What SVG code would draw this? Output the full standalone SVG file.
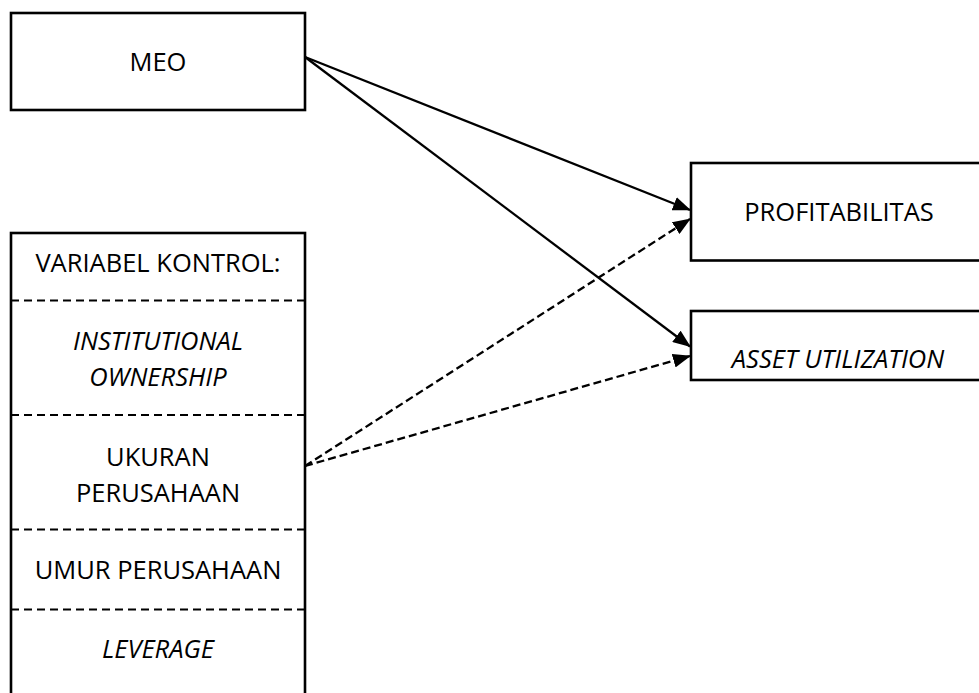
<svg xmlns="http://www.w3.org/2000/svg" width="979" height="693" viewBox="0 0 979 693">
<style>
.box{fill:#fff;stroke:#000;stroke-width:2.6}
.div{stroke:#000;stroke-width:2.2;stroke-dasharray:8,5;fill:none}
.t{font-family:"Open Sans","Liberation Sans",sans-serif;font-size:25.5px;fill:#000;text-anchor:middle}
.i{font-style:italic}
.c{stroke:#000;stroke-width:2.3;fill:none}
.d{stroke-dasharray:8,4}
</style>
<defs>
<marker id="ah" markerWidth="18" markerHeight="14" refX="17" refY="7" orient="auto" markerUnits="userSpaceOnUse">
<path d="M0,0 L18,7 L0,14 Z" fill="#000"/>
</marker>
</defs>
<rect width="979" height="693" fill="#fff"/>
<g id="meo">
<rect class="box" x="11" y="13" width="294" height="97"/>
<text class="t" x="158" y="71">MEO</text>
</g>
<g id="kontrol">
<rect class="box" x="11" y="233" width="294" height="470"/>
<line class="div" x1="11" y1="300.5" x2="305" y2="300.5"/>
<line class="div" x1="11" y1="415" x2="305" y2="415"/>
<line class="div" x1="11" y1="529.5" x2="305" y2="529.5"/>
<line class="div" x1="11" y1="609.5" x2="305" y2="609.5"/>
<text class="t" x="158" y="272">VARIABEL KONTROL:</text>
<text class="t i" x="158" y="350">INSTITUTIONAL</text>
<text class="t i" x="158" y="386">OWNERSHIP</text>
<text class="t" x="158" y="466">UKURAN</text>
<text class="t" x="158" y="502">PERUSAHAAN</text>
<text class="t" x="158" y="579">UMUR PERUSAHAAN</text>
<text class="t i" x="158" y="658">LEVERAGE</text>
</g>
<g id="profitabilitas">
<rect class="box" x="691" y="163" width="300" height="97.5"/>
<text class="t" x="839" y="221">PROFITABILITAS</text>
</g>
<g id="asset">
<rect class="box" x="691" y="311" width="300" height="69"/>
<text class="t i" x="838" y="368">ASSET UTILIZATION</text>
</g>
<g id="connectors">
<line class="c" x1="305" y1="57" x2="690" y2="210" marker-end="url(#ah)"/>
<line class="c" x1="305" y1="57" x2="690" y2="346.5" marker-end="url(#ah)"/>
<line class="c d" x1="305" y1="466" x2="690" y2="219" marker-end="url(#ah)"/>
<line class="c d" x1="305" y1="466" x2="690" y2="356" marker-end="url(#ah)"/>
</g>
</svg>
